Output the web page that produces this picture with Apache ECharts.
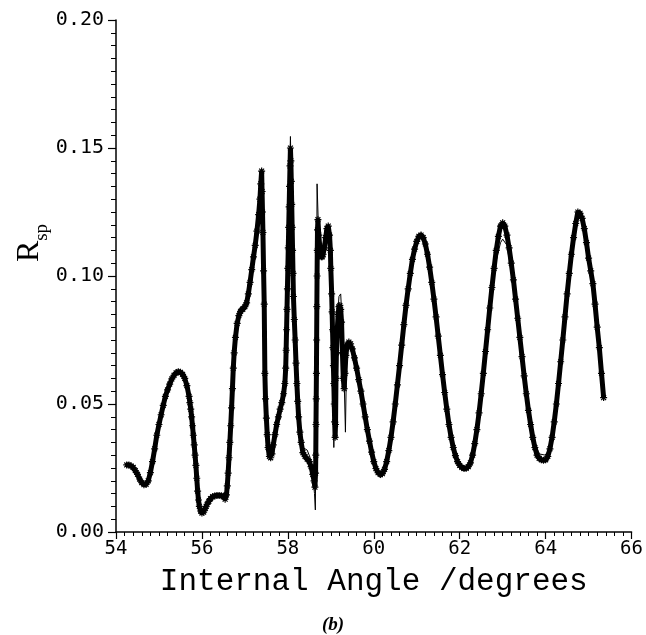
<!DOCTYPE html>
<html>
<head>
<meta charset="utf-8">
<script src="https://cdn.jsdelivr.net/npm/echarts@6/dist/echarts.min.js"></script>
<style>html,body{margin:0;padding:0;background:#fff}#c{width:646px;height:635px}</style>
</head>
<body>
<div id="c"></div>
<script>
// Measured reflectivity (asterisks)
const measX = [54.25,54.30,54.35,54.40,54.45,54.50,54.55,54.60,54.65,54.70,54.75,54.80,54.85,54.90,54.95,55.00,55.05,55.10,55.15,55.20,55.25,55.30,55.35,55.40,55.45,55.50,55.55,55.60,55.65,55.70,55.72,55.74,55.76,55.78,55.80,55.82,55.84,55.86,55.88,55.90,55.92,55.94,55.97,56.00,56.04,56.08,56.12,56.16,56.20,56.25,56.30,56.35,56.40,56.45,56.50,56.54,56.57,56.59,56.61,56.63,56.65,56.67,56.69,56.71,56.73,56.75,56.78,56.82,56.86,56.90,56.95,57.00,57.04,57.08,57.12,57.16,57.20,57.24,57.28,57.32,57.35,57.37,57.39,57.40,57.41,57.42,57.435,57.45,57.465,57.48,57.50,57.52,57.54,57.57,57.60,57.63,57.66,57.70,57.74,57.78,57.82,57.86,57.90,57.93,57.95,57.96,57.97,57.98,57.99,58.00,58.01,58.02,58.03,58.04,58.05,58.06,58.07,58.08,58.09,58.10,58.11,58.12,58.13,58.15,58.17,58.19,58.21,58.23,58.25,58.28,58.31,58.35,58.40,58.45,58.50,58.54,58.58,58.61,58.63,58.645,58.65,58.655,58.66,58.665,58.67,58.675,58.68,58.685,58.69,58.70,58.72,58.74,58.76,58.78,58.80,58.82,58.85,58.88,58.91,58.94,58.97,58.99,59.00,59.02,59.03,59.04,59.05,59.06,59.07,59.08,59.09,59.10,59.11,59.12,59.13,59.15,59.17,59.19,59.21,59.23,59.25,59.27,59.29,59.31,59.33,59.35,59.38,59.42,59.46,59.50,59.55,59.60,59.65,59.70,59.75,59.80,59.85,59.90,59.95,60.00,60.05,60.10,60.15,60.20,60.25,60.30,60.35,60.40,60.45,60.50,60.55,60.60,60.65,60.70,60.75,60.80,60.85,60.90,60.95,61.00,61.05,61.10,61.15,61.20,61.25,61.30,61.35,61.40,61.45,61.50,61.55,61.60,61.65,61.70,61.75,61.80,61.85,61.90,61.95,62.00,62.05,62.10,62.15,62.20,62.25,62.30,62.35,62.40,62.45,62.50,62.55,62.60,62.65,62.70,62.75,62.80,62.85,62.90,62.95,63.00,63.05,63.10,63.15,63.20,63.25,63.30,63.35,63.40,63.45,63.50,63.55,63.60,63.65,63.70,63.75,63.80,63.85,63.90,63.95,64.00,64.05,64.10,64.15,64.20,64.25,64.30,64.35,64.40,64.45,64.50,64.55,64.60,64.65,64.70,64.75,64.80,64.85,64.90,64.95,65.00,65.05,65.10,65.15,65.20,65.25,65.30,65.35];
const measY = [0.0262,0.0262,0.0258,0.0252,0.0240,0.0225,0.0207,0.0193,0.0185,0.0186,0.0200,0.0232,0.0275,0.0325,0.0378,0.0420,0.0458,0.0495,0.0530,0.0555,0.0578,0.0598,0.0612,0.0622,0.0626,0.0624,0.0616,0.0600,0.0572,0.0530,0.0505,0.0480,0.0450,0.0415,0.0378,0.0340,0.0300,0.0260,0.0210,0.0160,0.0125,0.0100,0.0082,0.0074,0.0078,0.0092,0.0108,0.0120,0.0130,0.0138,0.0141,0.0143,0.0143,0.0142,0.0140,0.0128,0.0145,0.0180,0.0230,0.0290,0.0350,0.0415,0.0485,0.0560,0.0640,0.0700,0.0760,0.0815,0.0845,0.0862,0.0870,0.0880,0.0895,0.0930,0.0975,0.1025,0.1075,0.1120,0.1175,0.1240,0.1300,0.1360,0.1410,0.1330,0.1250,0.1170,0.1020,0.0890,0.0620,0.0520,0.0445,0.0380,0.0330,0.0295,0.0290,0.0305,0.0340,0.0380,0.0420,0.0450,0.0480,0.0505,0.0540,0.0580,0.0640,0.0710,0.0790,0.0870,0.0950,0.1030,0.1110,0.1190,0.1270,0.1350,0.1430,0.1500,0.1450,0.1370,0.1280,0.1190,0.1100,0.1010,0.0920,0.0830,0.0750,0.0660,0.0580,0.0510,0.0450,0.0390,0.0350,0.0310,0.0295,0.0285,0.0275,0.0255,0.0225,0.0200,0.0175,0.0230,0.0300,0.0420,0.0520,0.0620,0.0750,0.0880,0.1000,0.1100,0.1180,0.1220,0.1160,0.1120,0.1090,0.1075,0.1075,0.1085,0.1110,0.1150,0.1185,0.1195,0.1160,0.1100,0.1030,0.0930,0.0860,0.0790,0.0720,0.0650,0.0580,0.0500,0.0430,0.0370,0.0420,0.0600,0.0700,0.0790,0.0850,0.0880,0.0885,0.0870,0.0820,0.0700,0.0600,0.0560,0.0620,0.0690,0.0730,0.0742,0.0735,0.0715,0.0680,0.0640,0.0595,0.0550,0.0500,0.0450,0.0400,0.0355,0.0312,0.0275,0.0248,0.0232,0.0225,0.0228,0.0245,0.0275,0.0318,0.0370,0.0430,0.0500,0.0575,0.0650,0.0730,0.0810,0.0885,0.0950,0.1010,0.1065,0.1105,0.1135,0.1155,0.1160,0.1150,0.1125,0.1085,0.1035,0.0975,0.0910,0.0840,0.0765,0.0690,0.0615,0.0545,0.0480,0.0420,0.0370,0.0330,0.0298,0.0275,0.0260,0.0252,0.0248,0.0249,0.0255,0.0270,0.0300,0.0345,0.0400,0.0465,0.0540,0.0620,0.0705,0.0790,0.0875,0.0955,0.1030,0.1100,0.1155,0.1195,0.1208,0.1195,0.1160,0.1110,0.1050,0.0985,0.0910,0.0835,0.0760,0.0685,0.0610,0.0540,0.0475,0.0420,0.0370,0.0330,0.0300,0.0288,0.0282,0.0280,0.0282,0.0295,0.0325,0.0370,0.0430,0.0500,0.0580,0.0665,0.0750,0.0840,0.0930,0.1010,0.1085,0.1150,0.1205,0.1250,0.1245,0.1225,0.1185,0.1130,0.1070,0.1020,0.0970,0.0890,0.0800,0.0720,0.0620,0.0525];

// Calculated fit (thin line)
const fitX = [54.25,54.40,54.55,54.65,54.75,54.85,55.00,55.15,55.30,55.45,55.60,55.70,55.80,55.90,56.00,56.10,56.25,56.40,56.50,56.54,56.58,56.63,56.69,56.73,56.78,56.84,56.90,56.97,57.04,57.12,57.20,57.28,57.35,57.39,57.42,57.45,57.48,57.52,57.57,57.62,57.70,57.80,57.88,57.93,57.97,58.02,58.06,58.10,58.15,58.21,58.28,58.35,58.45,58.52,58.58,58.62,58.64,58.66,58.68,58.71,58.75,58.80,58.86,58.94,58.99,59.03,59.07,59.10,59.14,59.19,59.23,59.27,59.31,59.34,59.37,59.42,59.55,59.70,59.85,60.00,60.10,60.16,60.25,60.40,60.55,60.70,60.85,61.00,61.10,61.20,61.35,61.50,61.65,61.80,61.95,62.10,62.25,62.40,62.55,62.70,62.85,62.95,63.00,63.10,63.25,63.40,63.55,63.70,63.85,64.00,64.10,64.20];
const fitY = [0.0262,0.0252,0.0205,0.0183,0.0198,0.0273,0.0418,0.0528,0.0598,0.0628,0.0602,0.0532,0.0380,0.0160,0.0072,0.0100,0.0136,0.0145,0.0142,0.0125,0.0160,0.0290,0.0490,0.0650,0.0790,0.0860,0.0880,0.0885,0.0900,0.0975,0.1075,0.1175,0.1300,0.1410,0.1170,0.0890,0.0520,0.0370,0.0310,0.0320,0.0400,0.0470,0.0510,0.0580,0.0800,0.1200,0.1545,0.1190,0.0830,0.0580,0.0400,0.0330,0.0320,0.0290,0.0220,0.0150,0.0086,0.0550,0.1360,0.1200,0.1100,0.1080,0.1120,0.1200,0.1120,0.0800,0.0330,0.0600,0.0800,0.0920,0.0930,0.0800,0.0600,0.0390,0.0720,0.0745,0.0680,0.0550,0.0400,0.0270,0.0222,0.0212,0.0238,0.0368,0.0575,0.0810,0.1015,0.1145,0.1170,0.1130,0.0975,0.0765,0.0545,0.0370,0.0275,0.0250,0.0272,0.0400,0.0620,0.0860,0.1060,0.1130,0.1144,0.1120,0.0960,0.0760,0.0540,0.0375,0.0305,0.0300,0.0330,0.0430];

const xTicks = [54, 56, 58, 60, 62, 64, 66];
const yTicks = [0.00, 0.05, 0.10, 0.15, 0.20];

const measData = measX.map((x, i) => [x, measY[i]]);
const fitData = fitX.map((x, i) => [x, fitY[i]]);

const asterisk = 'path://M5,0L5,10M0,5L10,5M1.5,1.5L8.5,8.5M8.5,1.5L1.5,8.5';
const monoFont = 'DejaVu Sans Mono';

const chart = echarts.init(document.getElementById('c'), null, {renderer: 'canvas'});
chart.setOption({
  animation: false,
  backgroundColor: '#fff',
  grid: {left: 116, right: 13, top: 20, bottom: 103, containLabel: false},
  xAxis: {
    type: 'value',
    min: xTicks[0], max: xTicks[xTicks.length - 1], interval: 2,
    axisLine: {show: true, onZero: false, lineStyle: {color: '#000', width: 1.5}},
    axisTick: {show: true, inside: false, length: 7, lineStyle: {color: '#000', width: 1.2}},
    minorTick: {show: true, splitNumber: 10, length: 4, lineStyle: {color: '#000', width: 1}},
    splitLine: {show: false},
    axisLabel: {color: '#000', fontFamily: monoFont, fontSize: 19, margin: 8},
    name: 'Internal Angle /degrees',
    nameLocation: 'middle',
    nameGap: 34,
    nameTextStyle: {color: '#000', fontFamily: 'Liberation Mono', fontSize: 31}
  },
  yAxis: {
    type: 'value',
    min: yTicks[0], max: yTicks[yTicks.length - 1], interval: 0.05,
    axisLine: {show: true, onZero: false, lineStyle: {color: '#000', width: 1.5}},
    axisTick: {show: true, inside: false, length: 8, lineStyle: {color: '#000', width: 1.2}},
    minorTick: {show: true, splitNumber: 10, length: 5, lineStyle: {color: '#000', width: 1}},
    splitLine: {show: false},
    axisLabel: {color: '#000', fontFamily: monoFont, fontSize: 20, margin: 12,
      formatter: v => v.toFixed(2)}
  },
  graphic: [
    {
      type: 'text', x: 30, y: 243, rotation: Math.PI / 2,
      style: {
        text: '{r|R}{s|sp}',
        align: 'center', verticalAlign: 'middle',
        rich: {
          r: {fontFamily: 'Liberation Serif', fontSize: 32, fill: '#000', verticalAlign: 'bottom'},
          s: {fontFamily: 'Liberation Serif', fontSize: 19, fill: '#000', verticalAlign: 'bottom', padding: [0, 0, -6, 0]}
        }
      }
    },
    {
      type: 'text', x: 333, y: 625,
      style: {
        text: '(b)', align: 'center', verticalAlign: 'middle',
        font: 'italic bold 19px "Liberation Serif"', fill: '#000'
      }
    }
  ],
  series: [
    {
      name: 'measured', type: 'line', data: measData,
      symbol: asterisk, symbolSize: 7, showSymbol: true, showAllSymbol: true,
      itemStyle: {color: '#000', borderColor: '#000', borderWidth: 1.2},
      lineStyle: {color: '#000', width: 5},
      z: 2
    },
    {
      name: 'fit', type: 'line', data: fitData,
      symbol: 'none', smooth: false,
      lineStyle: {color: '#000', width: 1},
      z: 3
    }
  ]
});
</script>
</body>
</html>
